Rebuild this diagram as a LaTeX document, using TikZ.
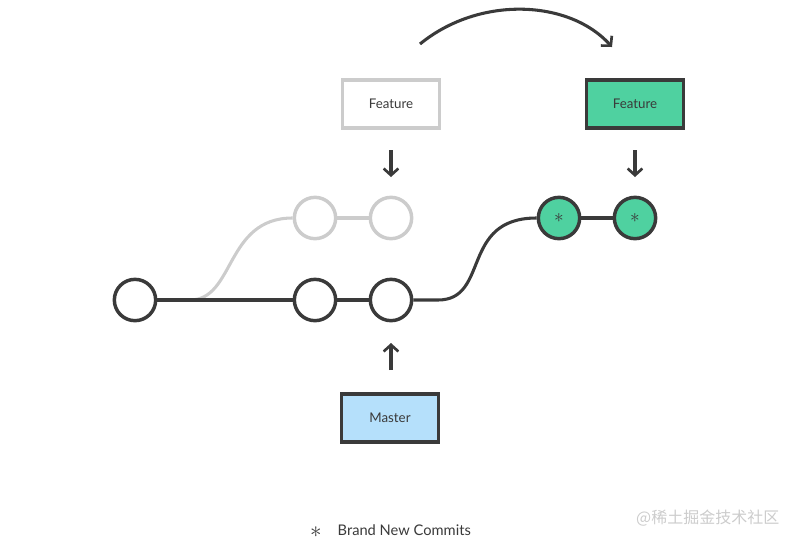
\documentclass[tikz,border=0pt]{standalone}
\usepackage{fontspec}
\setmainfont{Lato}
\newfontfamily\cjk{Noto Sans CJK SC}
\usetikzlibrary{arrows.meta}
\definecolor{dk}{HTML}{3A3A3A}
\definecolor{lg}{HTML}{CCCCCC}
\definecolor{gr}{HTML}{4FD1A0}
\definecolor{bl}{HTML}{B5E0FB}
\begin{document}
\begin{tikzpicture}[x=0.75pt,y=-0.75pt,
 cmt/.style={circle,draw=dk,line width=2.6pt,minimum size=31pt,inner sep=0pt},
 cgr/.style={circle,draw=lg,line width=2.6pt,minimum size=31pt,inner sep=0pt},
 cnw/.style={cmt,fill=gr},
 bx/.style={draw=dk,line width=2.3pt,minimum width=73pt,minimum height=36pt,font=\fontsize{10}{12}\selectfont,text=dk},
 ln/.style={line width=2.3pt,draw=dk},
 lgl/.style={line width=2.3pt,draw=lg},
 ar/.style={ln,-{Straight Barb[length=5pt,width=11pt,line width=2pt]}},
 star/.style={font=\fontsize{14}{14}\selectfont,text=dk,inner sep=0pt}]
\useasboundingbox (0,0) rectangle (800,544);
\node[cgr] (g1) at (315,218) {};
\node[cgr] (g2) at (391,218) {};
\node[cmt] (c0) at (135,300) {};
\node[cmt] (c1) at (315,300) {};
\node[cmt] (c2) at (391,300) {};
\node[cnw] (n1) at (559,218) {};
\node[cnw] (n2) at (635,218) {};
\node[star] at (n1) {$\ast$};
\node[star] at (n2) {$\ast$};
\node[bx,draw=lg] (fo) at (391,104) {Feature};
\node[bx,fill=gr] (fn) at (635,104) {Feature};
\node[bx,fill=bl] (ms) at (390,418) {Master};
\coordinate (gs) at (190,300);
\draw[lgl] (gs) .. controls (235,300) and (225,218) .. (g1.west);
\draw[lgl] (g1) -- (g2);
\draw[ln] (c0) -- (c1);
\draw[ln] (c1) -- (c2);
\draw[ln] (c2.east) -- (438,300) .. controls (490,300) and (460,218) .. (n1.west);
\draw[ln] (n1) -- (n2);
\coordinate (a1) at (391,150); \coordinate (b1) at (391,177);
\coordinate (a2) at (635,150); \coordinate (b2) at (635,177);
\coordinate (a3) at (391,370); \coordinate (b3) at (391,343);
\draw[ar] (a1) -- (b1);
\draw[ar] (a2) -- (b2);
\draw[ar] (a3) -- (b3);
\coordinate (t0) at (420,44); \coordinate (t1) at (612,47);
\draw[ar] (t0) .. controls (480,-5) and (570,0) .. (t1);
\node[star,font=\fontsize{18}{18}\selectfont] (ls) at (316,532) {$\ast$};
\node[anchor=west,font=\fontsize{11}{13}\selectfont,text=dk] (lt) at (333,530) {Brand New Commits};
\node[anchor=east,font=\cjk\fontsize{12}{14}\selectfont,text=lg] (wm) at (784,518) {@稀土掘金技术社区};
\end{tikzpicture}
\end{document}
